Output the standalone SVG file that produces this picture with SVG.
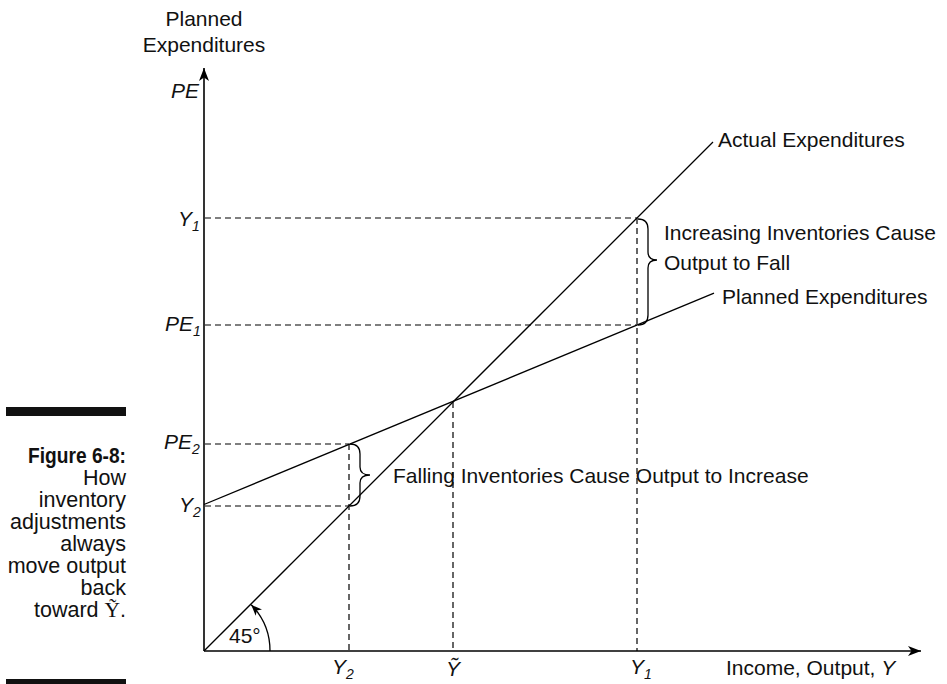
<svg xmlns="http://www.w3.org/2000/svg" width="947" height="684" viewBox="0 0 947 684">
<defs>
<style>
text{font-family:"Liberation Sans",Arial,sans-serif;font-size:21px;fill:#111}
.cap{font-size:21.5px}
.it{font-style:italic}
.sub{font-size:14px}
.ax{stroke:#000;stroke-width:1.6;fill:none}
.ln{stroke:#000;stroke-width:1.3;fill:none}
.dash{stroke:#000;stroke-width:1.2;fill:none;stroke-dasharray:6 4}
.brace{stroke:#000;stroke-width:1.3;fill:none}
</style>
<marker id="arr" markerUnits="userSpaceOnUse" markerWidth="14" markerHeight="10" refX="13" refY="5" orient="auto">
<path d="M0,0 L13,5 L0,10 L3.5,5 z" fill="#000"/>
</marker>
<marker id="arrs" markerUnits="userSpaceOnUse" markerWidth="12" markerHeight="9" refX="11" refY="4.5" orient="auto">
<path d="M0,0 L11,4.5 L0,9 L3,4.5 z" fill="#000"/>
</marker>
</defs>
<rect width="947" height="684" fill="#fff"/>

<g id="caption">
<rect x="6" y="407" width="120" height="9" fill="#111"/>
<rect x="6" y="679" width="120" height="5" fill="#111"/>
<text class="cap" text-anchor="end"><tspan x="126" y="463" font-weight="bold" textLength="98" lengthAdjust="spacingAndGlyphs">Figure 6-8:</tspan><tspan x="126" y="485">How</tspan><tspan x="126" y="507">inventory</tspan><tspan x="126" y="529">adjustments</tspan><tspan x="126" y="551">always</tspan><tspan x="126" y="573">move output</tspan><tspan x="126" y="595">back</tspan><tspan x="126" y="617">toward <tspan font-family="'Liberation Serif','DejaVu Serif',serif">Ỹ</tspan>.</tspan></text>
</g>

<g id="connectors">
<path class="ax" d="M204,651 L204,68" marker-end="url(#arr)"/>
<path class="ax" d="M204,651 L921,651" marker-end="url(#arr)"/>
<path class="ln" d="M204,651 L713,142"/>
<path class="ln" d="M204,504.5 L714,293.2"/>
<path class="dash" d="M205,218 L637,218 M205,325 L637,325 M205,444 L349,444 M205,506 L349,506"/>
<path class="dash" d="M349,444 L349,651 M453,402 L453,651 M637,218 L637,651"/>
<path class="brace" d="M638,219 Q648,219 648,229 L648,252 Q648,260 657,260 Q648,260 648,268 L648,315 Q648,325 638,325"/>
<path class="brace" d="M350,444 Q360,444 360,454 L360,467 Q360,475 370,475 Q360,475 360,483 L360,496 Q360,506 350,506"/>
<path class="ln" d="M270,651 A66,66 0 0 0 251.2,604.8" marker-end="url(#arrs)"/>
</g>

<g id="axis-labels">
<text x="204" y="26" text-anchor="middle">Planned</text>
<text x="204" y="52" text-anchor="middle">Expenditures</text>
<text x="171" y="98" class="it">PE</text>
<text x="726" y="675">Income, Output, <tspan class="it">Y</tspan></text>
</g>

<g id="tick-labels">
<text x="178" y="226" class="it">Y<tspan class="sub" dy="5">1</tspan></text>
<text x="165" y="331" class="it">PE<tspan class="sub" dy="5">1</tspan></text>
<text x="164" y="449" class="it">PE<tspan class="sub" dy="5">2</tspan></text>
<text x="179" y="512" class="it">Y<tspan class="sub" dy="5">2</tspan></text>
<text x="332" y="674" class="it">Y<tspan class="sub" dy="5">2</tspan></text>
<text x="453" y="676" class="it" text-anchor="middle">Ỹ</text>
<text x="630" y="674" class="it">Y<tspan class="sub" dy="5">1</tspan></text>
<text x="229" y="643">45°</text>
</g>

<g id="curve-labels">
<text x="718" y="147">Actual Expenditures</text>
<text x="722" y="304">Planned Expenditures</text>
<text x="664" y="240">Increasing Inventories Cause</text>
<text x="664" y="270">Output to Fall</text>
<text x="393" y="483">Falling Inventories Cause Output to Increase</text>
</g>
</svg>
